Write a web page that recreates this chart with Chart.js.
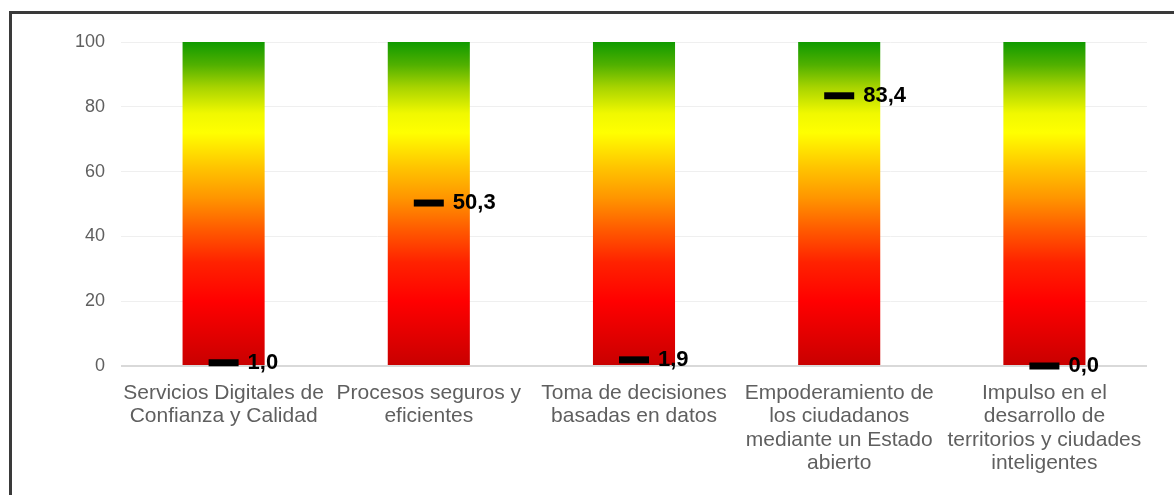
<!DOCTYPE html>
<html>
<head>
<meta charset="utf-8">
<script src="https://cdn.jsdelivr.net/npm/chart.js@4.4.1/dist/chart.umd.min.js"></script>
<style>
  html, body { margin: 0; padding: 0; background: #fff; overflow: hidden; }
  #frame {
    position: absolute; left: 9px; top: 11px; width: 1300px; height: 600px;
    border: 3px solid #3a3a3a; pointer-events: none;
  }
  #chart { position: absolute; left: 0; top: 0; }
</style>
</head>
<body>
<canvas id="chart" width="1174" height="495"></canvas>
<div id="frame"></div>
<script>
// categories (multi-line labels)
const categories = [
    ['Servicios Digitales de', 'Confianza y Calidad'],
    ['Procesos seguros y', 'eficientes'],
    ['Toma de decisiones', 'basadas en datos'],
    ['Empoderamiento de', 'los ciudadanos', 'mediante un Estado', 'abierto'],
    ['Impulso en el', 'desarrollo de', 'territorios y ciudades', 'inteligentes']
];
// background scale bars (full range) and measured values
const rangeTop = [100, 100, 100, 100, 100];
const values = [1.0, 50.3, 1.9, 83.4, 0.0];
const yTicks = [0, 20, 40, 60, 80, 100];

const FONT = '"Liberation Sans", Arial, sans-serif';

// red -> yellow -> green fill for the range bars
function rangeGradient(ctx) {
    const chart = ctx.chart;
    if (!chart.chartArea) return '#ff0000';
    const y = chart.scales.y;
    const g = chart.ctx.createLinearGradient(0, y.getPixelForValue(0), 0, y.getPixelForValue(100));
    g.addColorStop(0.00, '#c80000');
    g.addColorStop(0.20, '#ff0000');
    g.addColorStop(0.32, '#ff2200');
    g.addColorStop(0.42, '#ff5a00');
    g.addColorStop(0.52, '#ff9600');
    g.addColorStop(0.62, '#ffc800');
    g.addColorStop(0.72, '#ffff00');
    g.addColorStop(0.78, '#f0f800');
    g.addColorStop(0.86, '#a8d400');
    g.addColorStop(0.93, '#50b000');
    g.addColorStop(1.00, '#109a00');
    return g;
}

// value labels next to the black markers
const valueLabels = {
    id: 'valueLabels',
    afterDatasetsDraw(chart) {
        const meta = chart.getDatasetMeta(0);
        const ctx = chart.ctx;
        ctx.save();
        ctx.font = 'bold 22px ' + FONT;
        ctx.fillStyle = '#000';
        ctx.textAlign = 'left';
        ctx.textBaseline = 'middle';
        meta.data.forEach((pt, i) => {
            ctx.fillText(values[i].toFixed(1).replace('.', ','), pt.x + 24, pt.y);
        });
        ctx.restore();
    }
};

new Chart(document.getElementById('chart'), {
    data: {
        labels: categories,
        datasets: [
            {
                type: 'line',
                data: values,
                showLine: false,
                pointStyle: 'line',
                pointRadius: 15,
                pointBorderWidth: 7,
                pointBorderColor: '#000',
                pointBackgroundColor: '#000',
                clip: false,
                order: 0
            },
            {
                type: 'bar',
                data: rangeTop,
                backgroundColor: rangeGradient,
                borderWidth: 0,
                barPercentage: 0.4,
                categoryPercentage: 1,
                order: 1
            }
        ]
    },
    options: {
        responsive: false,
        animation: false,
        layout: { padding: { left: 75, right: 27, top: 42, bottom: 0 } },
        plugins: {
            legend: { display: false },
            tooltip: { enabled: false }
        },
        scales: {
            x: {
                grid: { display: false },
                border: { display: false },
                ticks: {
                    autoSkip: false,
                    maxRotation: 0,
                    minRotation: 0,
                    padding: 8,
                    color: '#5f5f5f',
                    font: { family: FONT, size: 21, lineHeight: 1.1 }
                },
                afterFit: s => { s.height = 129; }
            },
            y: {
                min: 0,
                max: 100,
                afterBuildTicks: s => { s.ticks = yTicks.map(v => ({ value: v })); },
                grid: {
                    drawTicks: false,
                    color: c => c.tick && c.tick.value === 0 ? '#d9d9d9' : '#efefef',
                    lineWidth: c => c.tick && c.tick.value === 0 ? 2 : 1
                },
                border: { display: false },
                ticks: {
                    padding: 16,
                    color: '#5f5f5f',
                    font: { family: FONT, size: 18 }
                },
                afterFit: s => { s.width = 46; }
            }
        }
    },
    plugins: [valueLabels]
});
</script>
</body>
</html>
